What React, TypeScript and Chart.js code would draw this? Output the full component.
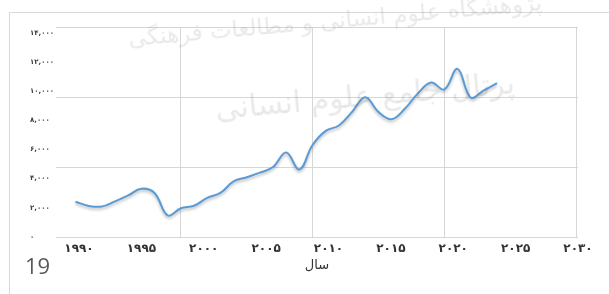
import React, { useEffect, useRef } from "react";
import { Chart, registerables } from "chart.js";

Chart.register(...registerables);

// Data
const years: number[] = [
  1992, 1993, 1994, 1995, 1996, 1997, 1998, 1999, 2000, 2001, 2002, 2003,
  2004, 2005, 2006, 2007, 2008, 2009, 2010, 2011, 2012, 2013, 2014, 2015,
  2016, 2017, 2018, 2019, 2020, 2021, 2022, 2023, 2024,
];
const values: number[] = [
  2420, 2130, 2090, 2440, 2850, 3310, 3020, 1480, 1970, 2140, 2680, 3020,
  3810, 4100, 4410, 4800, 5790, 4630, 6310, 7280, 7650, 8580, 9590, 8580,
  8080, 8790, 9850, 10590, 10120, 11530, 9570, 10050, 10550,
];
const xTickYears: number[] = [1990, 1995, 2000, 2005, 2010, 2015, 2020, 2025, 2030];
const yTickValues: number[] = [0, 2000, 4000, 6000, 8000, 10000, 12000, 14000];
const xGridYears: number[] = [2000, 2010, 2020, 2030];
const xTitle = "سال";
const pageNumber = "19";
const watermark1 = "پژوهشگاه علوم انسانی و مطالعات فرهنگی";
const watermark2 = "پرتال جامع علوم انسانی";

const faDigits = "۰۱۲۳۴۵۶۷۸۹";
const toFa = (s: string) => s.replace(/\d/g, (d) => faDigits[Number(d)]);

const GRID = "#d6d6d6";

const shadowPlugin = {
  id: "lineShadow",
  beforeDatasetsDraw(chart: any) {
    const ctx = chart.ctx;
    ctx.save();
    ctx.shadowColor = "rgba(0,0,0,0.28)";
    ctx.shadowBlur = 3;
    ctx.shadowOffsetY = 2;
  },
  afterDatasetsDraw(chart: any) {
    chart.ctx.restore();
  },
};

export default function App() {
  const ref = useRef<HTMLCanvasElement | null>(null);

  useEffect(() => {
    if (!ref.current) return;
    const chart = new Chart(ref.current, {
      type: "line",
      data: {
        datasets: [
          {
            data: years.map((y, i) => ({ x: y, y: values[i] })),
            borderColor: "#5b9bd5",
            borderWidth: 2,
            pointRadius: 0,
            tension: 0.4,
            fill: false,
            xAxisID: "x",
            yAxisID: "y",
          },
        ],
      },
      plugins: [shadowPlugin],
      options: {
        animation: false,
        responsive: false,
        layout: { padding: { top: 27, right: 31, left: 30, bottom: 0 } },
        plugins: { legend: { display: false }, tooltip: { enabled: false } },
        scales: {
          x: {
            type: "linear",
            position: "bottom",
            min: 1990.52,
            max: 2030.15,
            afterBuildTicks: (s: any) => {
              s.ticks = xGridYears.map((v) => ({ value: v }));
            },
            afterFit: (s: any) => {
              s.height = 0;
            },
            ticks: { display: false },
            grid: { color: GRID, lineWidth: 1, drawTicks: false },
            border: { display: false },
          },
          xl: {
            type: "linear",
            position: "bottom",
            min: 1988.156,
            max: 2030,
            afterBuildTicks: (s: any) => {
              s.ticks = xTickYears.map((v) => ({ value: v }));
            },
            afterFit: (s: any) => {
              s.height = 57;
            },
            ticks: {
              autoSkip: false,
              maxRotation: 0,
              padding: 5,
              color: "#333333",
              font: { family: "DejaVu Sans", size: 12, weight: "bold" },
              callback: (v: any) => toFa(String(v)),
            },
            grid: { display: false, drawTicks: false },
            border: { display: false },
            title: {
              display: true,
              text: xTitle,
              color: "#333333",
              font: { family: "DejaVu Sans", size: 13 },
              padding: { top: 0, bottom: 21 },
            },
          },
          y: {
            type: "linear",
            position: "left",
            min: 0,
            max: 14400,
            afterBuildTicks: (s: any) => {
              s.ticks = yTickValues.map((v) => ({ value: v }));
            },
            afterFit: (s: any) => {
              s.width = 26;
            },
            ticks: {
              crossAlign: "far",
              padding: 2,
              color: "#404040",
              font: { family: "DejaVu Sans", size: 7, weight: "bold" },
              callback: (v: any) => toFa(Number(v).toLocaleString("en-US")),
            },
            grid: { display: false, drawTicks: false },
            border: { display: false },
          },
          yg: {
            type: "linear",
            position: "left",
            min: 0,
            max: 14400,
            afterBuildTicks: (s: any) => {
              s.ticks = [0, 4800, 9600, 14400].map((v) => ({ value: v }));
            },
            afterFit: (s: any) => {
              s.width = 0;
            },
            ticks: { display: false },
            grid: { color: GRID, lineWidth: 1, drawTicks: false },
            border: { display: false },
          },
        },
      } as any,
    });
    return () => chart.destroy();
  }, []);

  return (
    <div
      style={{
        position: "fixed",
        left: 0,
        top: 0,
        width: 609,
        height: 294,
        overflow: "hidden",
        background: "#ffffff",
      }}
    >
      <div
        style={{
          position: "absolute",
          left: 9,
          top: 12,
          width: 640,
          height: 320,
          border: "1px solid #d9d9d9",
        }}
      />
      <canvas
        ref={ref}
        width={609}
        height={294}
        style={{ position: "absolute", left: 0, top: 0 }}
      />
      <div
        dir="rtl"
        style={{
          position: "absolute",
          left: 115,
          top: 6,
          width: 440,
          textAlign: "center",
          fontFamily: "DejaVu Sans",
          fontSize: 23,
          lineHeight: "28px",
          color: "rgba(110,110,110,0.15)",
          whiteSpace: "nowrap",
          transform: "rotate(-5deg)",
          pointerEvents: "none",
        }}
      >
        {watermark1}
      </div>
      <div
        dir="rtl"
        style={{
          position: "absolute",
          left: 200,
          top: 78,
          width: 330,
          textAlign: "center",
          fontFamily: "DejaVu Sans",
          fontSize: 30,
          lineHeight: "36px",
          color: "rgba(110,110,110,0.15)",
          whiteSpace: "nowrap",
          transform: "rotate(-5deg)",
          pointerEvents: "none",
        }}
      >
        {watermark2}
      </div>
      <div
        style={{
          position: "absolute",
          left: 25,
          top: 252,
          fontFamily: "Open Sans",
          fontSize: 22,
          color: "#595959",
          lineHeight: "26px",
        }}
      >
        {pageNumber}
      </div>
    </div>
  );
}
